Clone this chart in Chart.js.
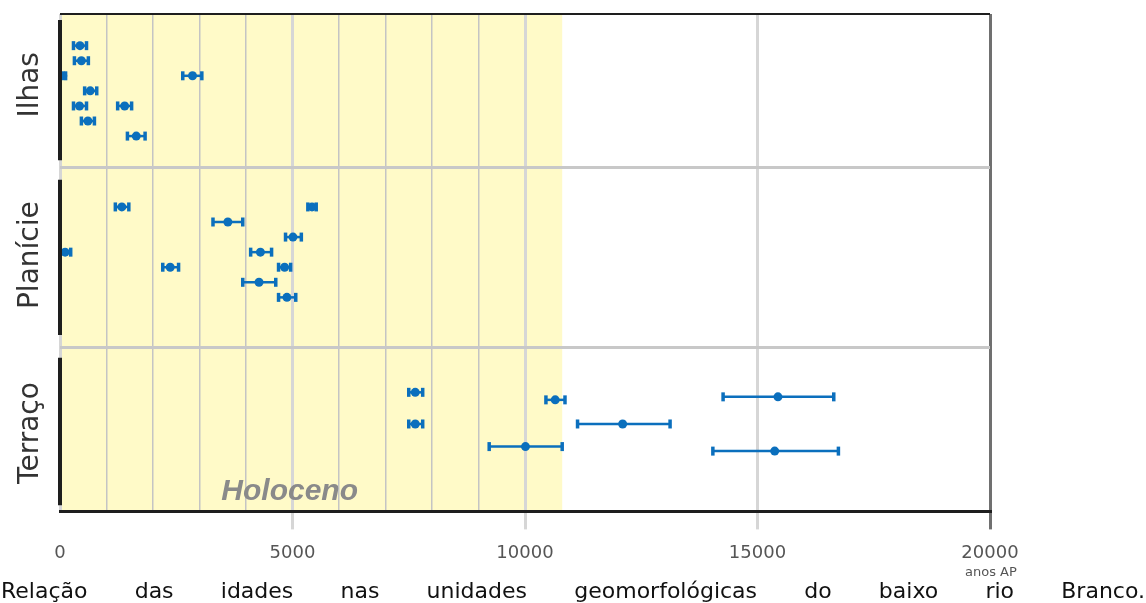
<!DOCTYPE html>
<html>
<head>
<meta charset="utf-8">
<script src="https://cdn.jsdelivr.net/npm/chart.js@4.4.1/dist/chart.umd.min.js"></script>
<style>
  body { margin: 0; background: #fff; width: 1146px; height: 603px; overflow: hidden; position: relative; }
  #wrap { position: absolute; left: 0; top: 0; width: 1146px; height: 590px; }
  #unit { position: absolute; left: 965px; top: 564px; font: 13px "DejaVu Sans"; color: #555; }
  #caption { position: absolute; left: 1px; top: 579px; width: 1144px; font: 22px "DejaVu Sans"; color: #111;
             text-align: justify; text-align-last: justify; line-height: 24px; white-space: nowrap; }
</style>
</head>
<body>
<div id="wrap"><canvas id="canvas" width="1146" height="590"></canvas></div>
<div id="unit">anos AP</div>
<div id="caption">Relação das idades nas unidades geomorfológicas do baixo rio Branco.</div>
<script>
  //-----------------------
  // - DATA -
  //-----------------------
  const categories = ['Ilhas', 'Planície', 'Terraço'];
  const xTicks = [0, 5000, 10000, 15000, 20000];
  const holoceneEnd = 10800;

  // rows are vertical slots inside each band (0 = top of plot)
  const bandStart = [0.4, 11.0, 22.8];
  const bandEnd = [9.7, 21.3, 32.6];
  const labelPos = [4.7, 16.0, 27.8];
  const separators = [0, 10.2, 22.1];

  const ilhasAge = [430, 460, 60, 2850, 650, 420, 1390, 600, 1640];
  const ilhasMin = [290, 310, 0, 2640, 530, 290, 1240, 460, 1450];
  const ilhasMax = [570, 610, 120, 3050, 790, 570, 1540, 740, 1830];
  const ilhasRow = [2.1, 3.1, 4.1, 4.1, 5.1, 6.1, 6.1, 7.1, 8.1];

  const planicieAge = [1330, 5420, 3610, 5010, 110, 4310, 2370, 4830, 4280, 4880];
  const planicieMin = [1190, 5330, 3290, 4850, 0, 4100, 2210, 4700, 3930, 4700];
  const planicieMax = [1480, 5510, 3930, 5190, 230, 4550, 2550, 4960, 4640, 5070];
  const planicieRow = [12.8, 12.8, 13.8, 14.8, 15.8, 15.8, 16.8, 16.8, 17.8, 18.8];

  const terracoAge = [7640, 15440, 10650, 7640, 12100, 10010, 15370];
  const terracoMin = [7500, 14260, 10450, 7500, 11130, 9230, 14040];
  const terracoMax = [7800, 16640, 10860, 7800, 13120, 10800, 16740];
  const terracoRow = [25.1, 25.4, 25.6, 27.2, 27.2, 28.7, 29.0];

  const blue = '#0b6fbd';

  //-----------------------
  // - DATASETS -
  //-----------------------
  const groups = [
    [ilhasAge, ilhasMin, ilhasMax, ilhasRow],
    [planicieAge, planicieMin, planicieMax, planicieRow],
    [terracoAge, terracoMin, terracoMax, terracoRow]
  ];

  const datasets = [];

  // black bars on the left, one per category band
  const bandLine = [];
  bandStart.forEach((s, i) => {
    bandLine.push({ x: 0, y: s }, { x: 0, y: bandEnd[i] }, { x: null, y: null });
  });
  datasets.push({
    type: 'line', data: bandLine, borderColor: '#1e1e1e', borderWidth: 4,
    pointRadius: 0, spanGaps: false, clip: false
  });

  groups.forEach(([age, lo, hi, row]) => {
    age.forEach((a, i) => {
      datasets.push({
        type: 'line',
        data: [{ x: lo[i], y: row[i] }, { x: hi[i], y: row[i] }],
        borderColor: blue, borderWidth: 2.5,
        pointStyle: 'line', pointRotation: 90, pointRadius: 4.5,
        pointBorderWidth: 3.5, pointBorderColor: blue,
        clip: false
      });
    });
    datasets.push({
      type: 'scatter',
      data: age.map((a, i) => ({ x: a, y: row[i] })),
      pointStyle: 'circle', pointRadius: 4.5, backgroundColor: blue,
      borderWidth: 0, clip: false
    });
  });

  //-----------------------
  // - PLUGINS -
  //-----------------------
  const holocenePlugin = {
    id: 'holocene',
    beforeDraw(chart) {
      const { ctx, chartArea, scales: { x } } = chart;
      const x0 = x.getPixelForValue(0);
      const x1 = x.getPixelForValue(holoceneEnd);
      ctx.save();
      ctx.fillStyle = '#fffac8';
      ctx.fillRect(x0, chartArea.top, x1 - x0, chartArea.bottom - chartArea.top);
      ctx.restore();
    },
    beforeDatasetsDraw(chart) {
      const { ctx, chartArea, scales: { x } } = chart;
      ctx.save();
      ctx.font = 'italic bold 30px "Liberation Sans"';
      ctx.fillStyle = '#8a8a8a';
      ctx.textAlign = 'left';
      ctx.fillText('Holoceno', x.getPixelForValue(3470), chartArea.bottom - 11);
      ctx.restore();
    }
  };

  const categoryPlugin = {
    id: 'categoryLabels',
    afterDraw(chart) {
      const { ctx, chartArea, scales: { y } } = chart;
      ctx.save();
      ctx.font = '28px "DejaVu Sans"';
      ctx.fillStyle = '#333';
      ctx.textAlign = 'center';
      ctx.textBaseline = 'alphabetic';
      categories.forEach((c, i) => {
        ctx.save();
        ctx.translate(chartArea.left - 22, y.getPixelForValue(labelPos[i]));
        ctx.rotate(-Math.PI / 2);
        ctx.fillText(c, 0, 0);
        ctx.restore();
      });
      ctx.restore();
    }
  };

  //-----------------------
  // - CHART -
  //-----------------------
  const ctx = document.getElementById('canvas').getContext('2d');

  const myChart = new Chart(ctx, {
    data: { datasets: datasets },
    options: {
      responsive: false,
      animation: false,
      layout: { padding: { left: 60, right: 156, top: 14, bottom: 13 } },
      plugins: { legend: { display: false }, tooltip: { enabled: false } },
      scales: {
        x: {
          type: 'linear', min: 0, max: 20000,
          afterBuildTicks: scale => {
            const t = [];
            for (let v = 0; v <= 20000; v += 1000) t.push({ value: v });
            scale.ticks = t;
          },
          ticks: {
            autoSkip: false, maxRotation: 0, padding: 13,
            color: '#555', font: { family: 'DejaVu Sans', size: 18 },
            callback: v => xTicks.includes(v) ? String(v) : ''
          },
          grid: {
            tickLength: 18,
            color: c => {
              const v = c.tick.value;
              if (v === 20000) return '#707070';
              if (v % 5000 === 0) return '#d6d6d6';
              if (v <= holoceneEnd) return '#c4c4c4';
              return 'rgba(0,0,0,0)';
            },
            lineWidth: c => (c.tick.value % 5000 === 0 ? 3 : 1.5),
            tickColor: c => {
              const v = c.tick.value;
              if (v === 20000) return '#707070';
              if (v > 0 && v % 5000 === 0) return '#d6d6d6';
              return 'rgba(0,0,0,0)';
            },
            tickWidth: 3
          },
          border: { display: true, color: '#1e1e1e', width: 3 }
        },
        y: {
          type: 'linear', min: 0, max: 33, reverse: true,
          afterBuildTicks: scale => { scale.ticks = separators.map(v => ({ value: v })); },
          ticks: { display: false },
          grid: {
            drawTicks: false,
            color: c => (c.tick.value === 0 ? '#1e1e1e' : '#c8c8c8'),
            lineWidth: c => (c.tick.value === 0 ? 2 : 3)
          },
          border: { display: false }
        }
      }
    },
    plugins: [holocenePlugin, categoryPlugin]
  });
</script>
</body>
</html>
